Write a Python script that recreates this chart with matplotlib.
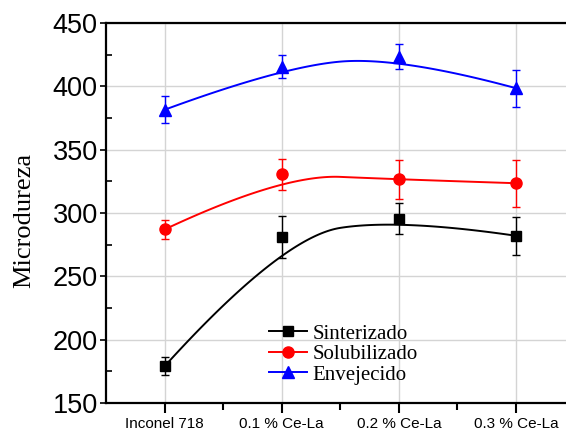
import numpy as np
import matplotlib
matplotlib.use("Agg")
import matplotlib.pyplot as plt
from matplotlib.ticker import MultipleLocator

# Data
categories = ['Inconel 718', '0.1 % Ce-La', '0.2 % Ce-La', '0.3 % Ce-La']
sinterizado = [179, 281, 295.5, 282]
sinterizado_err = [7, 16.5, 12, 15]
solubilizado = [287, 330.5, 326.5, 323.5]
solubilizado_err = [7.5, 12, 15.5, 18.5]
envejecido = [381.5, 415.5, 423.5, 398.5]
envejecido_err = [10.5, 9, 10, 14.5]


def bspline2(x, y, n=60):
    # clamped quadratic B-spline through end points, control points = data
    x = np.asarray(x, float)
    y = np.asarray(y, float)
    t = np.linspace(0, 1, n)
    xs, ys = [], []
    for i in range(1, len(x) - 1):
        a = (x[0], y[0]) if i == 1 else ((x[i-1] + x[i]) / 2, (y[i-1] + y[i]) / 2)
        c = (x[-1], y[-1]) if i == len(x) - 2 else ((x[i] + x[i+1]) / 2, (y[i] + y[i+1]) / 2)
        b = (x[i], y[i])
        xs.append((1-t)**2 * a[0] + 2*t*(1-t) * b[0] + t**2 * c[0])
        ys.append((1-t)**2 * a[1] + 2*t*(1-t) * b[1] + t**2 * c[1])
    return np.concatenate(xs), np.concatenate(ys)


fig = plt.figure(figsize=(5.66, 4.36), dpi=100)
ax = fig.add_axes([0.1873, 0.0757, 0.828, 0.8716])

xpos = np.arange(len(categories))
series = [
    ('Sinterizado', sinterizado, sinterizado_err, 'black', 's', 7),
    ('Solubilizado', solubilizado, solubilizado_err, 'red', 'o', 8),
    ('Envejecido', envejecido, envejecido_err, 'blue', '^', 8.5),
]

for name, vals, errs, col, mk, ms in series:
    sx, sy = bspline2(xpos, vals)
    ax.plot(sx, sy, color=col, lw=1.4, zorder=3)
    ax.errorbar(xpos, vals, yerr=errs, fmt='none', ecolor=col, elinewidth=1,
                capsize=3, capthick=1, zorder=4)
    ax.plot(xpos, vals, linestyle='none', marker=mk, ms=ms, color=col, zorder=5)
    # legend proxy
    ax.plot([], [], color=col, lw=1.4, marker=mk, ms=ms, label=name)

ax.set_xlim(-0.5, 3.5)
ax.set_ylim(150, 450)
ax.set_xticks(xpos)
ax.set_xticklabels(categories, fontfamily='Liberation Sans', fontsize=11)
ax.set_xticks(xpos[:-1] + 0.5, minor=True)
ax.yaxis.set_major_locator(MultipleLocator(50))
ax.yaxis.set_minor_locator(MultipleLocator(25))
for lab in ax.get_yticklabels():
    lab.set_fontfamily('Liberation Sans')
    lab.set_fontsize(19.5)

ax.tick_params(axis='x', which='major', direction='out', length=7, width=1.5, pad=3)
ax.tick_params(axis='x', which='minor', direction='out', length=5, width=1.5)
ax.tick_params(axis='y', which='major', direction='out', length=4, width=1.2, pad=2)
ax.tick_params(axis='y', which='minor', direction='in', length=4, width=1.2)

for sp in ax.spines.values():
    sp.set_linewidth(1.6)

ax.grid(True, which='major', color='#d4d4d4', lw=1)
ax.set_axisbelow(True)

ax.set_ylabel('Microdureza', fontfamily='Liberation Serif', fontsize=19)
ax.yaxis.set_label_coords(-0.152, 0.48)

ax.legend(loc='center left', bbox_to_anchor=(0.348, 0.128), frameon=False,
          prop={'family': 'Liberation Serif', 'size': 15}, numpoints=1,
          handlelength=1.8, handletextpad=0.3, labelspacing=0.05,
          borderpad=0, borderaxespad=0)

fig.savefig('out.png', dpi=100)
